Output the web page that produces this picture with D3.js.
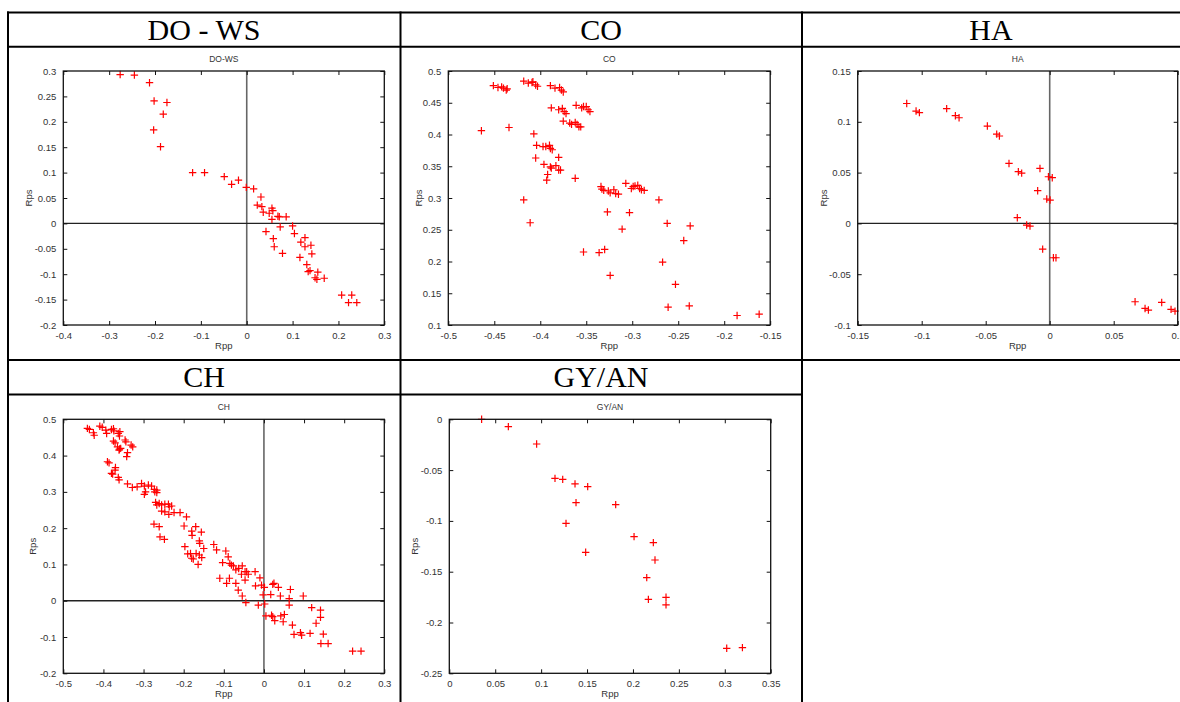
<!DOCTYPE html>
<html>
<head>
<meta charset="utf-8">
<script src="https://cdn.jsdelivr.net/npm/d3@7"></script>
<style>
  html, body { margin: 0; padding: 0; background: #fff; }
  svg { display: block; }
</style>
</head>
<body>
<svg id="chart" width="1180" height="702"></svg>
<script>
// ---------------- DATA ----------------
const headers = ["DO - WS", "CO", "HA", "CH", "GY/AN"];
const titles = ["DO-WS", "CO", "HA", "CH", "GY/AN"];

const doWsPoints = [
  [-0.276,0.293],[-0.245,0.292],[-0.212,0.277],[-0.202,0.241],[-0.174,0.238],[-0.182,0.215],
  [-0.203,0.184],[-0.188,0.151],[-0.118,0.100],[-0.092,0.100],[-0.049,0.092],[-0.033,0.077],
  [-0.018,0.085],[-0.001,0.071],[0.015,0.068],[0.031,0.052],[0.023,0.036],[0.033,0.033],
  [0.036,0.022],[0.049,0.020],[0.055,0.030],[0.057,0.025],[0.055,0.008],[0.068,0.014],
  [0.071,0.013],[0.086,0.013],[0.073,-0.007],[0.100,-0.005],[0.042,-0.016],[0.104,-0.020],
  [0.058,-0.030],[0.060,-0.046],[0.078,-0.059],[0.127,-0.028],[0.118,-0.037],[0.127,-0.046],
  [0.140,-0.043],[0.142,-0.060],[0.116,-0.067],[0.131,-0.081],[0.134,-0.095],[0.138,-0.093],
  [0.155,-0.096],[0.149,-0.107],[0.153,-0.110],[0.169,-0.108],[0.207,-0.141],[0.229,-0.141],
  [0.222,-0.156],[0.240,-0.156]
];

const coPoints = [
  [-0.451,0.477],[-0.446,0.474],[-0.442,0.475],[-0.440,0.473],[-0.437,0.470],[-0.436,0.472],
  [-0.418,0.484],[-0.413,0.481],[-0.409,0.482],[-0.408,0.483],[-0.405,0.478],[-0.403,0.476],
  [-0.389,0.477],[-0.384,0.473],[-0.379,0.474],[-0.377,0.470],[-0.375,0.467],
  [-0.388,0.442],[-0.380,0.439],[-0.376,0.441],[-0.374,0.436],[-0.372,0.433],
  [-0.361,0.446],[-0.355,0.442],[-0.353,0.444],[-0.350,0.444],[-0.348,0.439],[-0.346,0.436],
  [-0.375,0.421],[-0.368,0.418],[-0.366,0.416],[-0.362,0.419],[-0.360,0.416],[-0.358,0.412],[-0.356,0.412],
  [-0.464,0.406],[-0.434,0.411],[-0.407,0.401],
  [-0.404,0.383],[-0.397,0.381],[-0.394,0.381],[-0.390,0.383],[-0.389,0.378],[-0.387,0.376],
  [-0.380,0.364],[-0.405,0.363],[-0.396,0.353],[-0.389,0.349],[-0.388,0.347],[-0.383,0.351],
  [-0.380,0.344],[-0.378,0.344],[-0.392,0.337],[-0.393,0.328],[-0.362,0.331],
  [-0.334,0.318],[-0.333,0.314],[-0.331,0.312],[-0.326,0.311],[-0.324,0.308],[-0.320,0.313],
  [-0.318,0.307],[-0.315,0.306],[-0.307,0.323],[-0.301,0.315],[-0.299,0.318],[-0.297,0.319],
  [-0.294,0.320],[-0.292,0.315],[-0.290,0.313],[-0.287,0.312],[-0.271,0.297],[-0.418,0.297],
  [-0.327,0.278],[-0.303,0.277],[-0.262,0.260],[-0.237,0.256],[-0.311,0.251],[-0.411,0.261],
  [-0.244,0.233],[-0.353,0.215],[-0.336,0.214],[-0.330,0.219],[-0.267,0.199],[-0.324,0.178],
  [-0.253,0.164],[-0.261,0.128],[-0.238,0.130],[-0.186,0.115],[-0.162,0.117]
];

const haPoints = [
  [-0.1117,0.118],[-0.1044,0.1106],[-0.1018,0.109],[-0.0805,0.113],[-0.0737,0.106],[-0.0708,0.104],
  [-0.0487,0.0958],[-0.0414,0.0879],[-0.0393,0.086],[-0.0318,0.059],[-0.0245,0.0509],[-0.0219,0.0495],
  [-0.0076,0.0541],[-0.0010,0.0459],[0.0020,0.045],[-0.0094,0.0322],[-0.0023,0.024],[0.0003,0.023],
  [-0.0253,0.0056],[-0.0180,-0.0016],[-0.0154,-0.0026],[-0.0055,-0.0253],[0.0029,-0.0338],[0.0049,-0.0338],
  [0.0667,-0.0771],[0.0745,-0.0837],[0.0771,-0.0853],[0.0875,-0.0778],[0.0948,-0.0846],[0.0979,-0.0863]
];

const chPoints = [
  [-0.440,0.475],[-0.435,0.472],[-0.425,0.463],[-0.423,0.456],[-0.409,0.481],[-0.403,0.478],
  [-0.394,0.470],[-0.392,0.461],[-0.380,0.472],[-0.375,0.474],[-0.374,0.468],[-0.363,0.461],
  [-0.360,0.454],[-0.359,0.466],[-0.375,0.440],[-0.371,0.435],[-0.365,0.424],[-0.360,0.418],
  [-0.357,0.420],[-0.361,0.415],[-0.346,0.443],[-0.344,0.438],[-0.331,0.429],[-0.327,0.424],
  [-0.340,0.408],[-0.342,0.397],
  [-0.390,0.383],[-0.386,0.380],[-0.370,0.367],[-0.371,0.360],[-0.380,0.351],[-0.377,0.349],
  [-0.363,0.340],[-0.361,0.333],[-0.340,0.322],[-0.328,0.312],[-0.316,0.314],[-0.305,0.323],
  [-0.298,0.316],[-0.298,0.293],[-0.295,0.300],[-0.288,0.319],[-0.280,0.316],[-0.273,0.307],
  [-0.272,0.300],[-0.267,0.305],[-0.267,0.298],[-0.270,0.271],[-0.267,0.264],[-0.255,0.264],
  [-0.261,0.268],[-0.247,0.266],[-0.255,0.247],[-0.247,0.245],[-0.238,0.266],[-0.236,0.259],
  [-0.230,0.261],[-0.237,0.238],[-0.224,0.243],[-0.209,0.243],[-0.274,0.211],[-0.261,0.204],
  [-0.259,0.176],[-0.248,0.169],[-0.193,0.231],[-0.199,0.206],[-0.180,0.192],[-0.170,0.204],
  [-0.179,0.180],[-0.156,0.189],[-0.161,0.165],[-0.160,0.158],[-0.150,0.144],[-0.197,0.149],
  [-0.190,0.129],[-0.183,0.130],[-0.180,0.117],[-0.176,0.115],[-0.169,0.130],[-0.161,0.126],
  [-0.155,0.119],[-0.164,0.100],[-0.125,0.155],[-0.118,0.140],[-0.095,0.137],[-0.089,0.121],
  [-0.103,0.105],[-0.085,0.103],[-0.081,0.098],[-0.076,0.096],[-0.070,0.085],[-0.063,0.089],
  [-0.054,0.096],[-0.056,0.073],[-0.047,0.080],[-0.043,0.080],[-0.039,0.073],[-0.022,0.080],
  [-0.010,0.063],[-0.110,0.062],[-0.086,0.062],[-0.093,0.048],[-0.070,0.048],[-0.047,0.057],
  [-0.021,0.041],[-0.064,0.029],[-0.054,0.013],[-0.045,-0.005],[-0.006,0.043],[0.001,0.037],
  [-0.002,0.016],[0.022,0.045],[0.025,0.048],[0.036,0.037],[0.017,0.017],[0.041,0.013],
  [-0.014,-0.012],[0.002,-0.009],[0.066,0.031],[0.063,0.006],[0.063,-0.012],[0.098,0.013],
  [0.005,-0.042],[0.019,-0.040],[0.022,-0.044],[0.027,-0.055],[0.042,-0.042],[0.051,-0.038],
  [0.048,-0.058],[0.071,-0.067],[0.075,-0.093],[0.091,-0.088],[0.094,-0.095],[0.115,-0.090],
  [0.119,-0.019],[0.141,-0.026],[0.141,-0.046],[0.130,-0.062],[0.148,-0.092],[0.142,-0.118],
  [0.160,-0.118],[0.221,-0.139],[0.242,-0.139]
];

const gyAnPoints = [
  [0.0352,0.000],[0.0643,-0.0072],[0.0951,-0.0243],[0.1151,-0.0581],[0.1235,-0.0591],[0.1369,-0.0636],
  [0.1507,-0.0663],[0.1380,-0.0820],[0.1812,-0.0840],[0.1271,-0.1024],[0.1485,-0.1309],[0.2012,-0.1155],
  [0.2222,-0.1214],[0.2240,-0.1385],[0.2150,-0.1558],[0.2168,-0.1772],[0.2360,-0.1752],[0.2360,-0.1827],
  [0.3021,-0.2254],[0.3192,-0.2247]
];

const xTicksList = [
  [-0.4,-0.3,-0.2,-0.1,0,0.1,0.2,0.3],
  [-0.5,-0.45,-0.4,-0.35,-0.3,-0.25,-0.2,-0.15],
  [-0.15,-0.1,-0.05,0,0.05,0.1],
  [-0.5,-0.4,-0.3,-0.2,-0.1,0,0.1,0.2,0.3],
  [0,0.05,0.1,0.15,0.2,0.25,0.3,0.35]
];
const yTicksList = [
  [-0.2,-0.15,-0.1,-0.05,0,0.05,0.1,0.15,0.2,0.25,0.3],
  [0.1,0.15,0.2,0.25,0.3,0.35,0.4,0.45,0.5],
  [-0.1,-0.05,0,0.05,0.1,0.15],
  [-0.2,-0.1,0,0.1,0.2,0.3,0.4,0.5],
  [-0.25,-0.2,-0.15,-0.1,-0.05,0]
];
const pointSets = [doWsPoints, coPoints, haPoints, chPoints, gyAnPoints];
const showZeroLines = [true, false, true, true, false];

// ---------------- LAYOUT ----------------
const frames = [
  {left: 63.3, top: 71, right: 384.3, bottom: 325, ylabX: 28.5},
  {left: 448.3, top: 71, right: 770.2, bottom: 325, ylabX: 418.5},
  {left: 857.7, top: 71, right: 1177.7, bottom: 325, ylabX: 823.5},
  {left: 63.3, top: 419.3, right: 384.3, bottom: 673.3, ylabX: 33},
  {left: 449.3, top: 419.3, right: 770.7, bottom: 673.3, ylabX: 415}
];
const headerCells = [
  {cx: 204, baseline: 39.5}, {cx: 601, baseline: 39.5}, {cx: 991, baseline: 39.5},
  {cx: 204, baseline: 387}, {cx: 601, baseline: 387}
];

const svg = d3.select("#chart");

// table lines
const tbl = svg.append("g").attr("stroke", "#000").attr("stroke-width", 2);
[[7, 12.5, 1180, 12.5], [7, 46.7, 1180, 46.7], [7, 360, 1180, 360], [7, 394.5, 802, 394.5],
 [8, 11.5, 8, 702], [400.5, 11.5, 400.5, 702], [802, 11.5, 802, 702]].forEach(l => {
  tbl.append("line").attr("x1", l[0]).attr("y1", l[1]).attr("x2", l[2]).attr("y2", l[3]);
});

// headers
headers.forEach((h, i) => {
  svg.append("text")
    .attr("x", headerCells[i].cx).attr("y", headerCells[i].baseline)
    .attr("text-anchor", "middle")
    .attr("font-family", "'Liberation Serif', 'Times New Roman', serif")
    .attr("font-size", 30).attr("fill", "#000")
    .text(h);
});

function fmt(v) {
  const r = Math.round(v * 1000) / 1000;
  if (r === 0) return "0";
  return String(r).replace("\u2212", "-");
}

const tickFont = "Arial, 'Liberation Sans', Helvetica, sans-serif";

pointSets.forEach((pts, i) => {
  const f = frames[i];
  const xt = xTicksList[i], yt = yTicksList[i];
  const x = d3.scaleLinear().domain([xt[0], xt[xt.length - 1]]).range([f.left, f.right]);
  const y = d3.scaleLinear().domain([yt[0], yt[yt.length - 1]]).range([f.bottom, f.top]);
  const g = svg.append("g");

  // zero lines
  if (showZeroLines[i]) {
    g.append("line").attr("x1", x(0)).attr("x2", x(0)).attr("y1", f.top).attr("y2", f.bottom)
      .attr("stroke", "#666").attr("stroke-width", 1.6);
    g.append("line").attr("x1", f.left).attr("x2", f.right).attr("y1", y(0)).attr("y2", y(0))
      .attr("stroke", "#222").attr("stroke-width", 1.3);
  }

  // markers
  const s = 3.7;
  g.append("g").selectAll("path").data(pts).join("path")
    .attr("d", d => `M${x(d[0]) - s},${y(d[1])}H${x(d[0]) + s}M${x(d[0])},${y(d[1]) - s}V${y(d[1]) + s}`)
    .attr("stroke", "#ff0000").attr("stroke-width", 1.2).attr("fill", "none");

  // axes (MATLAB-like inward ticks on all sides)
  const axB = d3.axisBottom(x).tickValues(xt).tickSizeInner(-4).tickSizeOuter(0).tickPadding(7).tickFormat(fmt);
  const axT = d3.axisTop(x).tickValues(xt).tickSizeInner(-4).tickSizeOuter(0).tickFormat("");
  const axL = d3.axisLeft(y).tickValues(yt).tickSizeInner(-4).tickSizeOuter(0).tickPadding(7).tickFormat(fmt);
  const axR = d3.axisRight(y).tickValues(yt).tickSizeInner(-4).tickSizeOuter(0).tickFormat("");

  const gb = g.append("g").attr("transform", `translate(0,${f.bottom})`).call(axB);
  const gt = g.append("g").attr("transform", `translate(0,${f.top})`).call(axT);
  const gl = g.append("g").attr("transform", `translate(${f.left},0)`).call(axL);
  const gr = g.append("g").attr("transform", `translate(${f.right},0)`).call(axR);
  [gb, gt, gl, gr].forEach(a => {
    a.select(".domain").remove();
    a.selectAll(".tick line").attr("stroke", "#111").attr("stroke-width", 1);
    a.selectAll(".tick text").attr("fill", "#333").attr("font-size", 9.5).attr("font-family", tickFont);
  });

  // frame
  g.append("rect").attr("x", f.left).attr("y", f.top)
    .attr("width", f.right - f.left).attr("height", f.bottom - f.top)
    .attr("fill", "none").attr("stroke", "#111").attr("stroke-width", 1.3);

  // title and labels
  const cx = (f.left + f.right) / 2;
  g.append("text").attr("x", cx).attr("y", f.top - 9).attr("text-anchor", "middle")
    .attr("font-family", tickFont).attr("font-size", 8.5).attr("fill", "#333").text(titles[i]);
  g.append("text").attr("x", cx).attr("y", f.bottom + 23.5).attr("text-anchor", "middle")
    .attr("font-family", tickFont).attr("font-size", 9.5).attr("fill", "#333").text("Rpp");
  g.append("text").attr("transform", `translate(${f.ylabX + 3},${(f.top + f.bottom) / 2}) rotate(-90)`)
    .attr("text-anchor", "middle")
    .attr("font-family", tickFont).attr("font-size", 9.5).attr("fill", "#333").text("Rps");
});
</script>
</body>
</html>
